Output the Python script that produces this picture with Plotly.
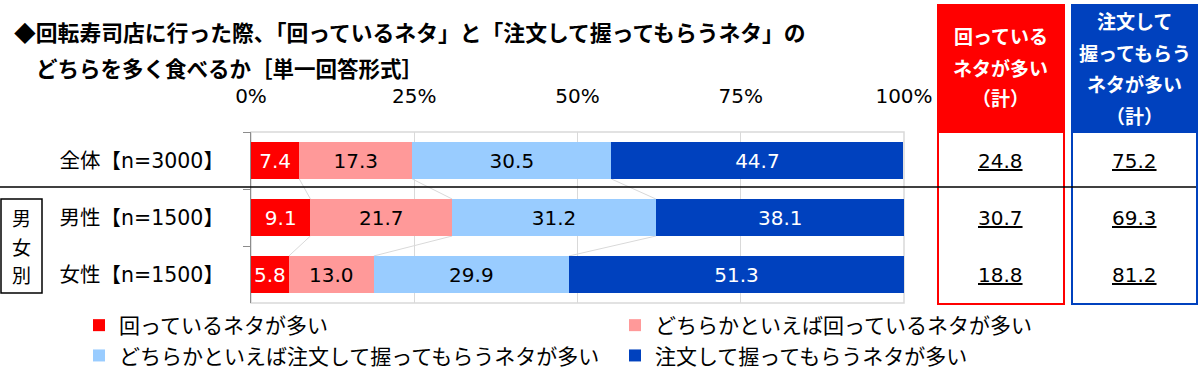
import plotly.graph_objects as go

# ---------------- data ----------------
categories = ["全体【n=3000】", "男性【n=1500】", "女性【n=1500】"]
series_names = [
    "回っているネタが多い",
    "どちらかといえば回っているネタが多い",
    "どちらかといえば注文して握ってもらうネタが多い",
    "注文して握ってもらうネタが多い",
]
s_mawaru = [7.4, 9.1, 5.8]
s_yaya_mawaru = [17.3, 21.7, 13.0]
s_yaya_chumon = [30.5, 31.2, 29.9]
s_chumon = [44.7, 38.1, 51.3]
total_mawaru = [24.8, 30.7, 18.8]
total_chumon = [75.2, 69.3, 81.2]
x_tickvals = [0, 25, 50, 75, 100]
x_ticktext = ["0%", "25%", "50%", "75%", "100%"]
title_line1 = "◆回転寿司店に行った際、「回っているネタ」と「注文して握ってもらうネタ」の"
title_line2 = "どちらを多く食べるか［単一回答形式］"
head_red = ["回っている", "ネタが多い", "（計）"]
head_blue = ["注文して", "握ってもらう", "ネタが多い", "（計）"]
group_label = ["男", "女", "別"]

# ---------------- style ----------------
colors = ["#FF0000", "#FF9999", "#99CCFF", "#0041BE"]
text_colors = ["#FFFFFF", "#000000", "#000000", "#FFFFFF"]
FONT = "DejaVu Sans, Noto Sans CJK JP, sans-serif"
JFONT = "Noto Sans CJK JP, DejaVu Sans, sans-serif"
W, H = 1200, 373
MT, MB = 132, 70
PLOT_L, PLOT_R = 251, 904


def fx(xpx):
    return xpx / W


def fy(ypx):
    return (H - MB - ypx) / (H - MT - MB)


series = [s_mawaru, s_yaya_mawaru, s_yaya_chumon, s_chumon]

fig = go.Figure()
for name, vals, c, tc in zip(series_names, series, colors, text_colors):
    fig.add_trace(go.Bar(
        y=categories, x=vals, name=name, orientation="h",
        marker=dict(color=c, line=dict(width=0)),
        text=vals, texttemplate="%{x:.1f}", textposition="inside",
        insidetextanchor="middle", textangle=0,
        textfont=dict(color=tc, size=20, family=FONT),
        hoverinfo="skip",
    ))

shapes = []
# plot frame
shapes.append(dict(type="rect", xref="x domain", yref="y domain", x0=0, x1=1, y0=0, y1=1,
                   line=dict(color="#D9D9D9", width=1.5), layer="below"))
# series lines between bars (cumulative boundaries)
half = 0.65 / 2
for i in range(len(categories) - 1):
    cum_a, cum_b = 0.0, 0.0
    for k in range(len(series) - 1):
        cum_a += series[k][i]
        cum_b += series[k][i + 1]
        shapes.append(dict(type="line", xref="x", yref="y",
                           x0=cum_a, y0=i + half, x1=cum_b, y1=i + 1 - half,
                           line=dict(color="#D9D9D9", width=1), layer="below"))

# right boxes
shapes.append(dict(type="rect", xref="paper", yref="paper",
                   x0=fx(938), x1=fx(1064), y0=fy(5), y1=fy(133),
                   fillcolor=colors[0], line=dict(width=0)))
shapes.append(dict(type="rect", xref="paper", yref="paper",
                   x0=fx(938), x1=fx(1064), y0=fy(5), y1=fy(304),
                   line=dict(color=colors[0], width=2)))
shapes.append(dict(type="rect", xref="paper", yref="paper",
                   x0=fx(1072), x1=fx(1197), y0=fy(5), y1=fy(133),
                   fillcolor=colors[3], line=dict(width=0)))
shapes.append(dict(type="rect", xref="paper", yref="paper",
                   x0=fx(1072), x1=fx(1197), y0=fy(5), y1=fy(304),
                   line=dict(color=colors[3], width=2)))
# 男女別 box
shapes.append(dict(type="rect", xref="paper", yref="paper",
                   x0=fx(1), x1=fx(42), y0=fy(199), y1=fy(293),
                   line=dict(color="#000000", width=1.5)))
# black separator
shapes.append(dict(type="line", xref="paper", yref="paper",
                   x0=fx(0), x1=fx(1196), y0=fy(187), y1=fy(187),
                   line=dict(color="#000000", width=1.5)))

ann = []
ann.append(dict(text=title_line1, xref="paper", yref="paper", x=fx(12), y=fy(31),
                xanchor="left", yanchor="middle", showarrow=False,
                font=dict(size=21.8, family=JFONT, color="#000000", weight="bold")))
ann.append(dict(text=title_line2, xref="paper", yref="paper", x=fx(34), y=fy(67),
                xanchor="left", yanchor="middle", showarrow=False,
                font=dict(size=21.5, family=JFONT, color="#000000", weight="bold")))
for t, ypx in zip(head_red, [35, 67, 98]):
    ann.append(dict(text=t, xref="paper", yref="paper", x=fx(1001), y=fy(ypx),
                    xanchor="center", yanchor="middle", showarrow=False,
                    font=dict(size=19, family=JFONT, color="#FFFFFF", weight="bold")))
for t, ypx in zip(head_blue, [20, 52, 83, 115]):
    ann.append(dict(text=t, xref="paper", yref="paper", x=fx(1134.5), y=fy(ypx),
                    xanchor="center", yanchor="middle", showarrow=False,
                    font=dict(size=19, family=JFONT, color="#FFFFFF", weight="bold")))
for cat, a, b in zip(categories, total_mawaru, total_chumon):
    ann.append(dict(text=f"{a:.1f}", xref="paper", yref="y", x=fx(1001), y=cat,
                    xanchor="center", yanchor="middle", showarrow=False,
                    font=dict(size=20, family=FONT, color="#000000", lineposition="under")))
    ann.append(dict(text=f"{b:.1f}", xref="paper", yref="y", x=fx(1134.5), y=cat,
                    xanchor="center", yanchor="middle", showarrow=False,
                    font=dict(size=20, family=FONT, color="#000000", lineposition="under")))
for t, ypx in zip(group_label, [217, 246, 274]):
    ann.append(dict(text=t, xref="paper", yref="paper", x=fx(21), y=fy(ypx),
                    xanchor="center", yanchor="middle", showarrow=False,
                    font=dict(size=19, family=JFONT, color="#000000")))

fig.update_layout(
    width=W, height=H,
    margin=dict(l=0, r=0, t=MT, b=MB, autoexpand=False),
    barmode="stack", bargap=0.35,
    plot_bgcolor="#FFFFFF", paper_bgcolor="#FFFFFF",
    font=dict(family=FONT, color="#000000"),
    showlegend=True,
    legend=dict(orientation="h", xref="paper", yref="container",
                x=fx(79), y=1 - 305 / H, xanchor="left", yanchor="top",
                entrywidth=491, entrywidthmode="pixels", traceorder="normal",
                font=dict(size=21, family=JFONT, color="#000000"),
                bgcolor="rgba(0,0,0,0)", borderwidth=0),
    xaxis=dict(domain=[fx(PLOT_L), fx(PLOT_R)], range=[0, 100], side="top",
               tickvals=x_tickvals, ticktext=x_ticktext, ticks="",
               showgrid=True, gridcolor="#D9D9D9", gridwidth=1,
               zeroline=False, showline=False, ticklabelstandoff=24,
               tickfont=dict(size=20, family=FONT, color="#000000"), fixedrange=True),
    yaxis=dict(type="category", categoryorder="array", categoryarray=categories,
               range=[2.5, -0.5], tickson="boundaries", ticks="outside", ticklen=7,
               tickcolor="#8C8C8C", showline=True, linecolor="#8C8C8C", linewidth=1,
               showgrid=False, ticklabelstandoff=22,
               tickfont=dict(size=20.5, family=FONT, color="#000000"), fixedrange=True),
    shapes=shapes, annotations=ann,
    uniformtext=dict(minsize=20, mode="show"),
    hovermode=False,
)

fig.write_html(
    "out.html",
    config={"displayModeBar": False, "staticPlot": True},
    post_script="document.body.style.margin='0';document.body.style.padding='0';"
                "document.body.style.overflow='hidden';",
)
